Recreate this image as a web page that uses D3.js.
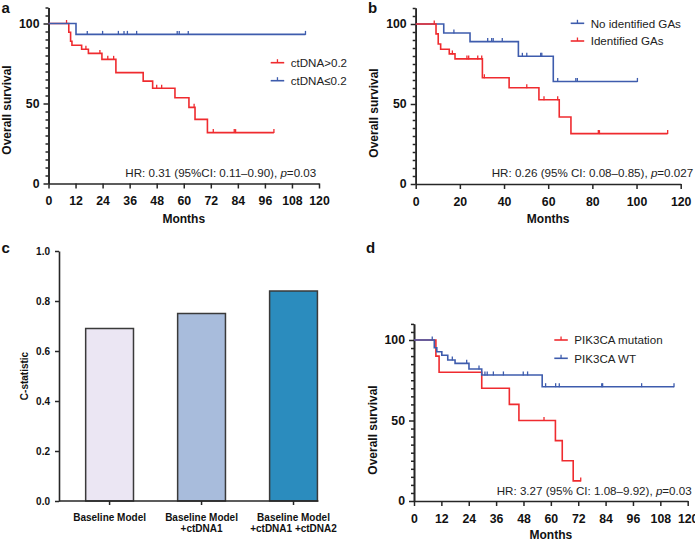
<!DOCTYPE html>
<html><head><meta charset="utf-8">
<script src="https://cdn.jsdelivr.net/npm/d3@7"></script>
<style>
body{margin:0;background:#fff}
svg{display:block;font-family:"Liberation Sans",Arial,Helvetica,sans-serif}
</style>
</head><body>
<svg id="chart" width="695" height="540"></svg>
<script>
// ---------- DATA ----------
// Panel a
const aHighTimes = [0, 9, 9.8, 10.4, 14.7, 17.7, 23.7, 29.9, 42, 46.2, 56.1, 62.3, 65, 70.5];
const aHighSurv  = [100, 94.5, 88.9, 86.4, 83.9, 81.3, 77.6, 69.3, 64, 59.5, 53.6, 47.6, 40.1, 31.8];
const aHighEnd = 100;
const aHighCens = [8, 16.6, 22.8, 26.3, 28.9, 48, 50.2, 64.6, 73.1, 82.4, 83, 100];
const aLowTimes = [0, 12.2];
const aLowSurv  = [100, 93.2];
const aLowEnd = 114;
const aLowCens = [17.2, 24, 31, 33.5, 35, 39.1, 57.1, 58, 62, 114];
const aLegend = ["ctDNA>0.2", "ctDNA\u22640.2"];
const aXTicks = [0, 12, 24, 36, 48, 60, 72, 84, 96, 108, 120];

// Panel b
const bNoTimes = [0, 12.7, 24.6, 46.5, 62.3];
const bNoSurv  = [100, 94.4, 89, 79.8, 64.1];
const bNoEnd = 100.4;
const bNoCens = [17.3, 32.6, 34.4, 35.1, 39.2, 48.3, 50.3, 56.6, 57.1, 64.3, 72.5, 73.2, 100.4];
const bYesTimes = [0, 9.2, 10.2, 11.3, 15.2, 17.8, 30.2, 42.3, 55.8, 65, 70.3];
const bYesSurv  = [100, 93.8, 87.5, 84.2, 81.3, 78.2, 66.4, 60.2, 52.7, 41.9, 31.5];
const bYesEnd = 114.1;
const bYesCens = [8.4, 16.6, 23.2, 24, 28.1, 29.9, 31.1, 50.3, 58.1, 64.3, 82.7, 83.2, 114.1];
const bLegend = ["No identified GAs", "Identified GAs"];
const bXTicks = [0, 20, 40, 60, 80, 100, 120];

// Panel c
const cCategories = ["Baseline Model", "Baseline Model|+ctDNA1", "Baseline Model|+ctDNA1 +ctDNA2"];
const cValues = [0.69, 0.75, 0.84];
const cYTicks = [0, 0.2, 0.4, 0.6, 0.8, 1.0];

// Panel d
const dMutTimes = [0, 9.6, 11, 29.7, 41.8, 46, 62, 65, 69.8];
const dMutSurv  = [100, 90, 80, 70, 60, 50, 37.5, 25, 12.5];
const dMutEnd = 73.1;
const dMutCens = [57, 73.1];
const dWtTimes = [0, 8.9, 10, 12.2, 14.8, 18, 24.1, 29.7, 56.2];
const dWtSurv  = [100, 95.2, 92.7, 90.5, 87.6, 85.5, 82, 78.3, 71];
const dWtEnd = 114;
const dWtCens = [8, 16.8, 23.1, 28.5, 31.1, 32.1, 34.8, 39.2, 47.9, 49.8, 57.7, 62.1, 63.7, 82.3, 82.7, 99.8, 114];
const dLegend = ["PIK3CA mutation", "PIK3CA WT"];
const dXTicks = [0, 12, 24, 36, 48, 60, 72, 84, 96, 108, 120];

// ---------- STYLE ----------
const RED = "#ef2b2f", BLUE = "#3e5cad", AX = "#262626";
const barColors = ["#ebe6f3", "#a8bcdc", "#2b8cbe"];

const svg = d3.select("#chart");
svg.append("rect").attr("width",695).attr("height",540).attr("fill","#fff");

function styleAxis(g, fs) {
  g.selectAll("path.domain").attr("stroke", AX).attr("stroke-width", 1.6);
  g.selectAll(".tick line").attr("stroke", AX).attr("stroke-width", 1.5);
  g.selectAll(".tick text").attr("fill", "#111").attr("font-weight", "bold")
    .attr("font-size", fs).attr("font-family", '"Liberation Sans",Arial,sans-serif');
}

function survAt(times, surv, t) {
  let v = surv[0];
  for (let i = 0; i < times.length; i++) if (times[i] <= t) v = surv[i];
  return v;
}

function kmPanel(cfg) {
  const x = d3.scaleLinear().domain([0, 120]).range(cfg.xr);
  const y = d3.scaleLinear().domain([0, 110]).range(cfg.yr);
  const g = svg.append("g");

  const xa = g.append("g").attr("transform", `translate(0,${y(0)})`)
    .call(d3.axisBottom(x).tickValues(cfg.xticks).tickSize(5).tickPadding(8).tickSizeOuter(0));
  styleAxis(xa, 12.3);

  const minor = d3.range(5, 111, 5).filter(v => v % 50 !== 0);
  const ym = g.append("g").attr("transform", `translate(${x(0)},0)`)
    .call(d3.axisLeft(y).tickValues(minor).tickSize(3).tickFormat("").tickSizeOuter(0));
  styleAxis(ym, 12);
  const ya = g.append("g").attr("transform", `translate(${x(0)},0)`)
    .call(d3.axisLeft(y).tickValues([0, 50, 100]).tickSize(5).tickPadding(4).tickSizeOuter(0));
  styleAxis(ya, 12.3);

  // titles
  g.append("text").attr("x", (cfg.xr[0] + cfg.xr[1]) / 2).attr("y", cfg.monthsY)
    .attr("text-anchor", "middle").attr("font-weight", "bold").attr("font-size", 12).attr("fill", "#111")
    .text("Months");
  g.append("text").attr("transform", `translate(${cfg.ytX},${cfg.ytY}) rotate(-90)`)
    .attr("text-anchor", "middle").attr("font-weight", "bold").attr("font-size", 12).attr("fill", "#111")
    .text("Overall survival");

  const line = d3.line().x(d => x(d[0])).y(d => y(d[1])).curve(d3.curveStepAfter);
  cfg.series.forEach(s => {
    const pts = s.times.map((t, i) => [t, s.surv[i]]);
    pts.push([s.end, s.surv[s.surv.length - 1]]);
    g.append("path").attr("d", line(pts)).attr("fill", "none")
      .attr("stroke", s.color).attr("stroke-width", 1.6);
    g.selectAll(null).data(s.cens).enter().append("line")
      .attr("x1", d => x(d)).attr("x2", d => x(d))
      .attr("y1", d => y(survAt(s.times, s.surv, d)) - 3.5)
      .attr("y2", d => y(survAt(s.times, s.surv, d)) + 0.5)
      .attr("stroke", s.color).attr("stroke-width", 1.3);
  });

  // legend
  cfg.series.forEach((s, i) => {
    const ly = cfg.legY[i];
    g.append("line").attr("x1", cfg.legX).attr("x2", cfg.legX + 13.5).attr("y1", ly).attr("y2", ly)
      .attr("stroke", s.color).attr("stroke-width", 1.6);
    g.append("line").attr("x1", cfg.legX + 6.75).attr("x2", cfg.legX + 6.75).attr("y1", ly - 3.5).attr("y2", ly)
      .attr("stroke", s.color).attr("stroke-width", 1.3);
    g.append("text").attr("x", cfg.legX + 20).attr("y", ly + 4.2)
      .attr("font-size", 11.6).attr("fill", "#222").text(s.label);
  });

  // HR text
  const hr = g.append("text").attr("x", cfg.hrX).attr("y", cfg.hrY)
    .attr("font-size", 11.6).attr("fill", "#222");
  hr.append("tspan").text(cfg.hr[0]);
  hr.append("tspan").attr("font-style", "italic").text("p");
  hr.append("tspan").text(cfg.hr[1]);

  // panel letter
  svg.append("text").attr("x", cfg.letX).attr("y", cfg.letY).attr("font-weight", "bold")
    .attr("font-size", 15).attr("fill", "#111").text(cfg.letter);
}

kmPanel({
  xr: [48.5, 319], yr: [183.5, 7.5], xticks: aXTicks, monthsY: 223, ytX: 11, ytY: 110,
  series: [
    {times: aHighTimes, surv: aHighSurv, end: aHighEnd, cens: aHighCens, color: RED, label: aLegend[0]},
    {times: aLowTimes, surv: aLowSurv, end: aLowEnd, cens: aLowCens, color: BLUE, label: aLegend[1]}
  ],
  legX: 270.7, legY: [62.7, 80.7],
  hr: ["HR: 0.31 (95%CI: 0.11\u20130.90), ", "=0.03"], hrX: 125.3, hrY: 177,
  letter: "a", letX: 1.5, letY: 13
});

kmPanel({
  xr: [415.7, 680.7], yr: [184, 8], xticks: bXTicks, monthsY: 223, ytX: 378, ytY: 113,
  series: [
    {times: bNoTimes, surv: bNoSurv, end: bNoEnd, cens: bNoCens, color: BLUE, label: bLegend[0]},
    {times: bYesTimes, surv: bYesSurv, end: bYesEnd, cens: bYesCens, color: RED, label: bLegend[1]}
  ],
  legX: 570.7, legY: [23.3, 41],
  hr: ["HR: 0.26 (95% CI: 0.08\u20130.85), ", "=0.027"], hrX: 491.7, hrY: 177,
  letter: "b", letX: 368, letY: 13
});

kmPanel({
  xr: [414, 687.7], yr: [501, 323.9], xticks: dXTicks, monthsY: 538.5, ytX: 377, ytY: 430,
  series: [
    {times: dMutTimes, surv: dMutSurv, end: dMutEnd, cens: dMutCens, color: RED, label: dLegend[0]},
    {times: dWtTimes, surv: dWtSurv, end: dWtEnd, cens: dWtCens, color: BLUE, label: dLegend[1]}
  ],
  legX: 554.3, legY: [340, 358.3],
  hr: ["HR: 3.27 (95% CI: 1.08\u20139.92), ", "=0.03"], hrX: 496.7, hrY: 495,
  letter: "d", letX: 366, letY: 253
});

// ---------- Panel c ----------
(function () {
  const x = d3.scaleBand().domain(cCategories).range([59, 344.1]).paddingInner(0.48).paddingOuter(0.29);
  const y = d3.scaleLinear().domain([0, 1]).range([501, 251]);
  const g = svg.append("g");
  g.selectAll("rect.bar").data(cValues).enter().append("rect")
    .attr("x", (d, i) => x(cCategories[i])).attr("width", x.bandwidth())
    .attr("y", d => y(d)).attr("height", d => y(0) - y(d))
    .attr("fill", (d, i) => barColors[i]).attr("stroke", "#3a3a3a").attr("stroke-width", 1.5);

  const xa = g.append("g").attr("transform", `translate(0,${y(0)})`)
    .call(d3.axisBottom(x).tickSize(4).tickFormat("").tickSizeOuter(0));
  xa.select("path.domain").remove();
  styleAxis(xa, 10);
  const last = cCategories[cCategories.length - 1];
  g.append("line").attr("x1", x.range()[0]).attr("x2", x(last) + x.bandwidth() + 1)
    .attr("y1", y(0)).attr("y2", y(0)).attr("stroke", AX).attr("stroke-width", 1.6);

  const ya = g.append("g").attr("transform", `translate(${x.range()[0]},0)`)
    .call(d3.axisLeft(y).tickValues(cYTicks).tickFormat(d3.format(".1f")).tickSize(4).tickPadding(5).tickSizeOuter(0));
  styleAxis(ya, 10);

  cCategories.forEach(c => {
    const t = g.append("text").attr("x", x(c) + x.bandwidth() / 2).attr("y", 520.5)
      .attr("text-anchor", "middle").attr("font-weight", "bold").attr("font-size", 10).attr("fill", "#111");
    c.split("|").forEach((s, i) => {
      t.append("tspan").attr("x", x(c) + x.bandwidth() / 2).attr("dy", i === 0 ? 0 : 11).text(s);
    });
  });
  g.append("text").attr("transform", "translate(28,376) rotate(-90)")
    .attr("text-anchor", "middle").attr("font-weight", "bold").attr("font-size", 10).attr("fill", "#111")
    .text("C-statistic");
  svg.append("text").attr("x", 1.5).attr("y", 253).attr("font-weight", "bold")
    .attr("font-size", 15).attr("fill", "#111").text("c");
})();
</script>
</body></html>
